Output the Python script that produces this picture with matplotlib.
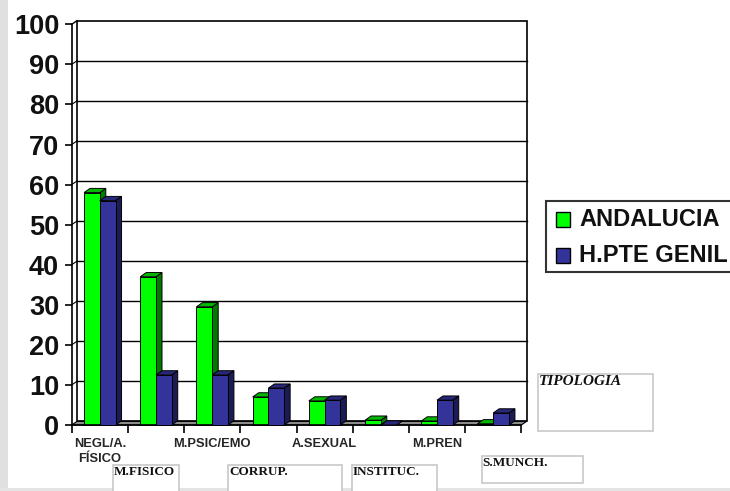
import matplotlib
matplotlib.use("Agg")
import matplotlib.pyplot as plt
from matplotlib.patches import Rectangle, Polygon
from matplotlib.transforms import blended_transform_factory

categorias = ["NEGL/A.\nFÍSICO", "M.FISICO", "M.PSIC/EMO", "CORRUP.",
              "A.SEXUAL", "INSTITUC.", "M.PREN", "S.MUNCH."]
andalucia = [58, 37, 29.5, 7, 6, 1.2, 1, 0.3]
hpte_genil = [56, 12.5, 12.5, 9.2, 6.2, 0, 6.2, 3]
series_names = ["ANDALUCIA", "H.PTE GENIL"]
yticks = list(range(0, 101, 10))

W, H = 730, 491
fig = plt.figure(figsize=(7.3, 4.91), dpi=100)
fig.patch.set_facecolor("white")


def fpx(x, y):
    # pixel position (top-left origin) -> figure fraction
    return x / W, 1 - y / H


# grey frame strips on the left and bottom
fig.patches.append(Rectangle((0, 0), 8 / W, 1, transform=fig.transFigure,
                             facecolor="#e0e0e0", edgecolor="none"))
fig.patches.append(Rectangle((0, 0), 1, 3 / H, transform=fig.transFigure,
                             facecolor="#e4e4e4", edgecolor="none"))

x0, y0 = 71.7, 425.0
xstep, ystep = 56.2, 4.007
n = len(categorias)
ax = fig.add_axes([x0 / W, 1 - y0 / H, n * xstep / W, 100 * ystep / H])
ax.set_xlim(0, n)
ax.set_ylim(0, 100)
ax.patch.set_visible(False)
for s in ["top", "right"]:
    ax.spines[s].set_visible(False)
ax.spines["left"].set_linewidth(1.2)
ax.spines["bottom"].set_linewidth(1.2)

ax.set_yticks(yticks)
ax.set_yticklabels([str(t) for t in yticks], fontsize=19.5, fontweight="bold",
                   family="Liberation Sans", color="#111")
ax.tick_params(axis="y", direction="out", length=5, width=1.2, pad=4)
ax.set_xticks(range(n + 1))
ax.set_xticklabels([])
ax.tick_params(axis="x", direction="out", length=6, width=1.2)

# depth of the back wall and of the bars, in data units
dxw, dyw = 5.3 / xstep, 3.6 / ystep
dxb, dyb = 6.0 / xstep, 4.2 / ystep

# back wall, floor and grid
ax.add_patch(Rectangle((dxw, dyw), n, 100, facecolor="white", edgecolor="black",
                       lw=1.2, zorder=0, clip_on=False))
ax.add_patch(Polygon([(0, 0), (n, 0), (n + dxw, dyw), (dxw, dyw)], closed=True,
                     facecolor="#8c8c8c", edgecolor="black", lw=0.8, zorder=0.5,
                     clip_on=False))
ax.plot([0, dxw], [100, 100 + dyw], color="black", lw=1.0, clip_on=False)
for t in yticks[1:-1]:
    ax.plot([dxw, n + dxw], [t + dyw, t + dyw], color="black", lw=1.0,
            zorder=0.6, clip_on=False)
    ax.plot([0, dxw], [t, t + dyw], color="black", lw=0.8, zorder=0.6, clip_on=False)

colors = [("#00ff00", "#00b800", "#007a00"), ("#333399", "#28287a", "#1c1c55")]
bw = 0.28
offsets = [0.22, 0.50]
for i in range(n):
    for k, vals in enumerate([andalucia, hpte_genil]):
        front, top, side = colors[k]
        xl = i + offsets[k]
        h = vals[i]
        z = 2 + k
        ax.add_patch(Polygon([(xl + bw, 0), (xl + bw + dxb, dyb), (xl + bw + dxb, h + dyb),
                              (xl + bw, h)], closed=True, facecolor=side,
                             edgecolor="black", lw=0.7, zorder=z, clip_on=False))
        ax.add_patch(Polygon([(xl, h), (xl + bw, h), (xl + bw + dxb, h + dyb),
                              (xl + dxb, h + dyb)], closed=True, facecolor=top,
                             edgecolor="black", lw=0.7, zorder=z, clip_on=False))
        if h > 0:
            ax.add_patch(Rectangle((xl, 0), bw, h, facecolor=front, edgecolor="black",
                                   lw=0.7, zorder=z, clip_on=False))

# category labels under the axis (every other one)
trans = blended_transform_factory(ax.transData, fig.transFigure)
for i in range(0, n, 2):
    ax.text(i + 0.5, 1 - 438 / H, categorias[i], transform=trans, ha="center",
            va="top", fontsize=9.3, fontweight="bold", family="Liberation Sans",
            color="#262626", linespacing=1.3)

# text boxes holding the remaining labels and the axis title
boxes = [
    (categorias[1], 112.7, 465, 179, 495, "normal"),
    (categorias[3], 228, 465, 342, 495, "normal"),
    (categorias[5], 351.7, 465, 436.7, 495, "normal"),
    (categorias[7], 481.7, 456, 583, 483, "normal"),
    ("TIPOLOGIA", 538, 374, 652.7, 430.7, "italic"),
]
for label, bx0, by0, bx1, by1, style in boxes:
    fx, fy = fpx(bx0, by1)
    fig.patches.append(Rectangle((fx, fy), (bx1 - bx0) / W, (by1 - by0) / H,
                                 transform=fig.transFigure, facecolor="white",
                                 edgecolor="#c8c8c8", lw=1.2, zorder=5))
    tx, ty = fpx(bx0 + 1, by0 + 1)
    fig.text(tx, ty, label, ha="left", va="top", family="Liberation Serif",
             fontweight="bold", fontstyle=style,
             fontsize=11 if style == "italic" else 9.5, color="#111", zorder=6)

# legend
lx, ly = fpx(546, 271.7)
fig.patches.append(Rectangle((lx, ly), (740 - 546) / W, (271.7 - 200.7) / H,
                             transform=fig.transFigure, facecolor="white",
                             edgecolor="#333", lw=1.5, zorder=5))
for k, name in enumerate(series_names):
    sy = 212 + k * 36
    sx, syf = fpx(556, sy + 15)
    fig.patches.append(Rectangle((sx, syf), 14 / W, 15 / H, transform=fig.transFigure,
                                 facecolor=colors[k][0], edgecolor="black", lw=1,
                                 zorder=6))
    tx, ty = fpx(579, sy + 8)
    fig.text(tx, ty, name, ha="left", va="center", fontsize=17, fontweight="bold",
             family="Liberation Sans", color="#111", zorder=6)

fig.savefig("out.png", dpi=100)
